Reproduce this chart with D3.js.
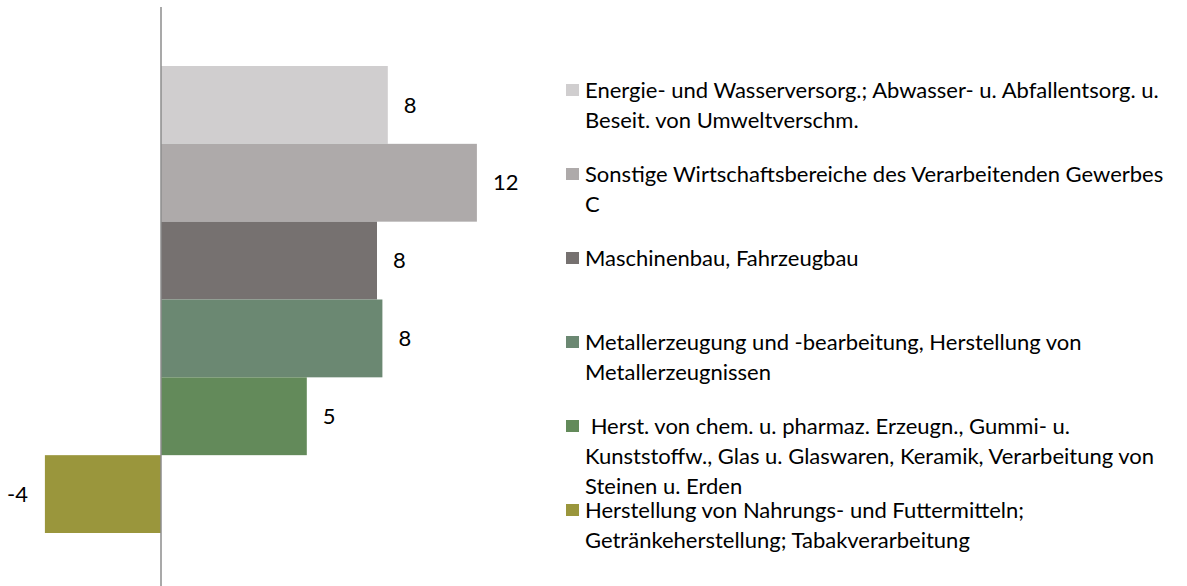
<!DOCTYPE html>
<html>
<head>
<meta charset="utf-8">
<script src="https://d3js.org/d3.v7.min.js"></script>
<style>
	body { margin: 0; background: #fff; }
	svg { display: block; font-family: Lato, 'Noto Sans', sans-serif; }
	text { white-space: pre; }
</style>
</head>
<body>
<div id="chart"></div>
<script>
// Categories, top to bottom (line breaks as in the legend)
const categories = [
	'Energie- und Wasserversorg.; Abwasser- u. Abfallentsorg. u.\nBeseit. von Umweltverschm.',
	'Sonstige Wirtschaftsbereiche des Verarbeitenden Gewerbes\nC',
	'Maschinenbau, Fahrzeugbau',
	'Metallerzeugung und -bearbeitung, Herstellung von\nMetallerzeugnissen',
	' Herst. von chem. u. pharmaz. Erzeugn., Gummi- u.\nKunststoffw., Glas u. Glaswaren, Keramik, Verarbeitung von\nSteinen u. Erden',
	'Herstellung von Nahrungs- und Futtermitteln;\nGetränkeherstellung; Tabakverarbeitung'
];
const values = [8.4, 11.7, 8.0, 8.2, 5.4, -4.3];
const colors = ['#d0cecf', '#aeaaaa', '#767170', '#6b8872', '#638a5a', '#9a963c'];
const xDomain = [-5, 15];

const width = 1187, height = 586;
const fontSize = 22;

const svg = d3.select('#chart').append('svg')
	.attr('width', width)
	.attr('height', height);

// Scales
const x = d3.scaleLinear()
	.domain(xDomain)
	.range([26, 566]);

const y = d3.scaleBand()
	.domain(d3.range(categories.length))
	.range([66, 533])
	.padding(0);

// Bars
svg.selectAll('rect.bar')
	.data(values)
.join('rect')
	.attr('class', 'bar')
	.attr('x', d => x(Math.min(0, d)))
	.attr('y', (d, i) => y(i))
	.attr('width', d => Math.abs(x(d) - x(0)))
	.attr('height', y.bandwidth())
	.attr('fill', (d, i) => colors[i]);

// Vertical axis line at zero
svg.append('line')
	.attr('x1', x(0)).attr('x2', x(0))
	.attr('y1', 7).attr('y2', height)
	.attr('stroke', '#8c8c8c')
	.attr('stroke-width', 1.5);

// Data labels
svg.selectAll('text.label')
	.data(values)
.join('text')
	.attr('class', 'label')
	.attr('x', d => d >= 0 ? x(d) + 16 : x(d) - 17)
	.attr('y', (d, i) => y(i) + y.bandwidth() / 2)
	.attr('dy', '0.35em')
	.attr('text-anchor', d => d >= 0 ? 'start' : 'end')
	.attr('font-size', fontSize)
	.attr('fill', '#000')
	.text(d => String(Math.round(d)));

// Legend
const legendX = 566, legendY = 90, legendStep = 84, lineHeight = 30;

const legend = svg.selectAll('g.legend')
	.data(categories)
.join('g')
	.attr('class', 'legend')
	.attr('transform', (d, i) => `translate(${legendX},${legendY + i * legendStep})`);

legend.append('rect')
	.attr('x', 0)
	.attr('y', -6)
	.attr('width', 13)
	.attr('height', 12)
	.attr('fill', (d, i) => colors[i]);

legend.append('text')
	.attr('font-size', fontSize)
	.attr('fill', '#000')
	.selectAll('tspan')
	.data(d => d.split('\n'))
.join('tspan')
	.attr('x', 19)
	.attr('y', (d, i) => i * lineHeight)
	.attr('dy', '0.35em')
	.text(d => d);
</script>
</body>
</html>
